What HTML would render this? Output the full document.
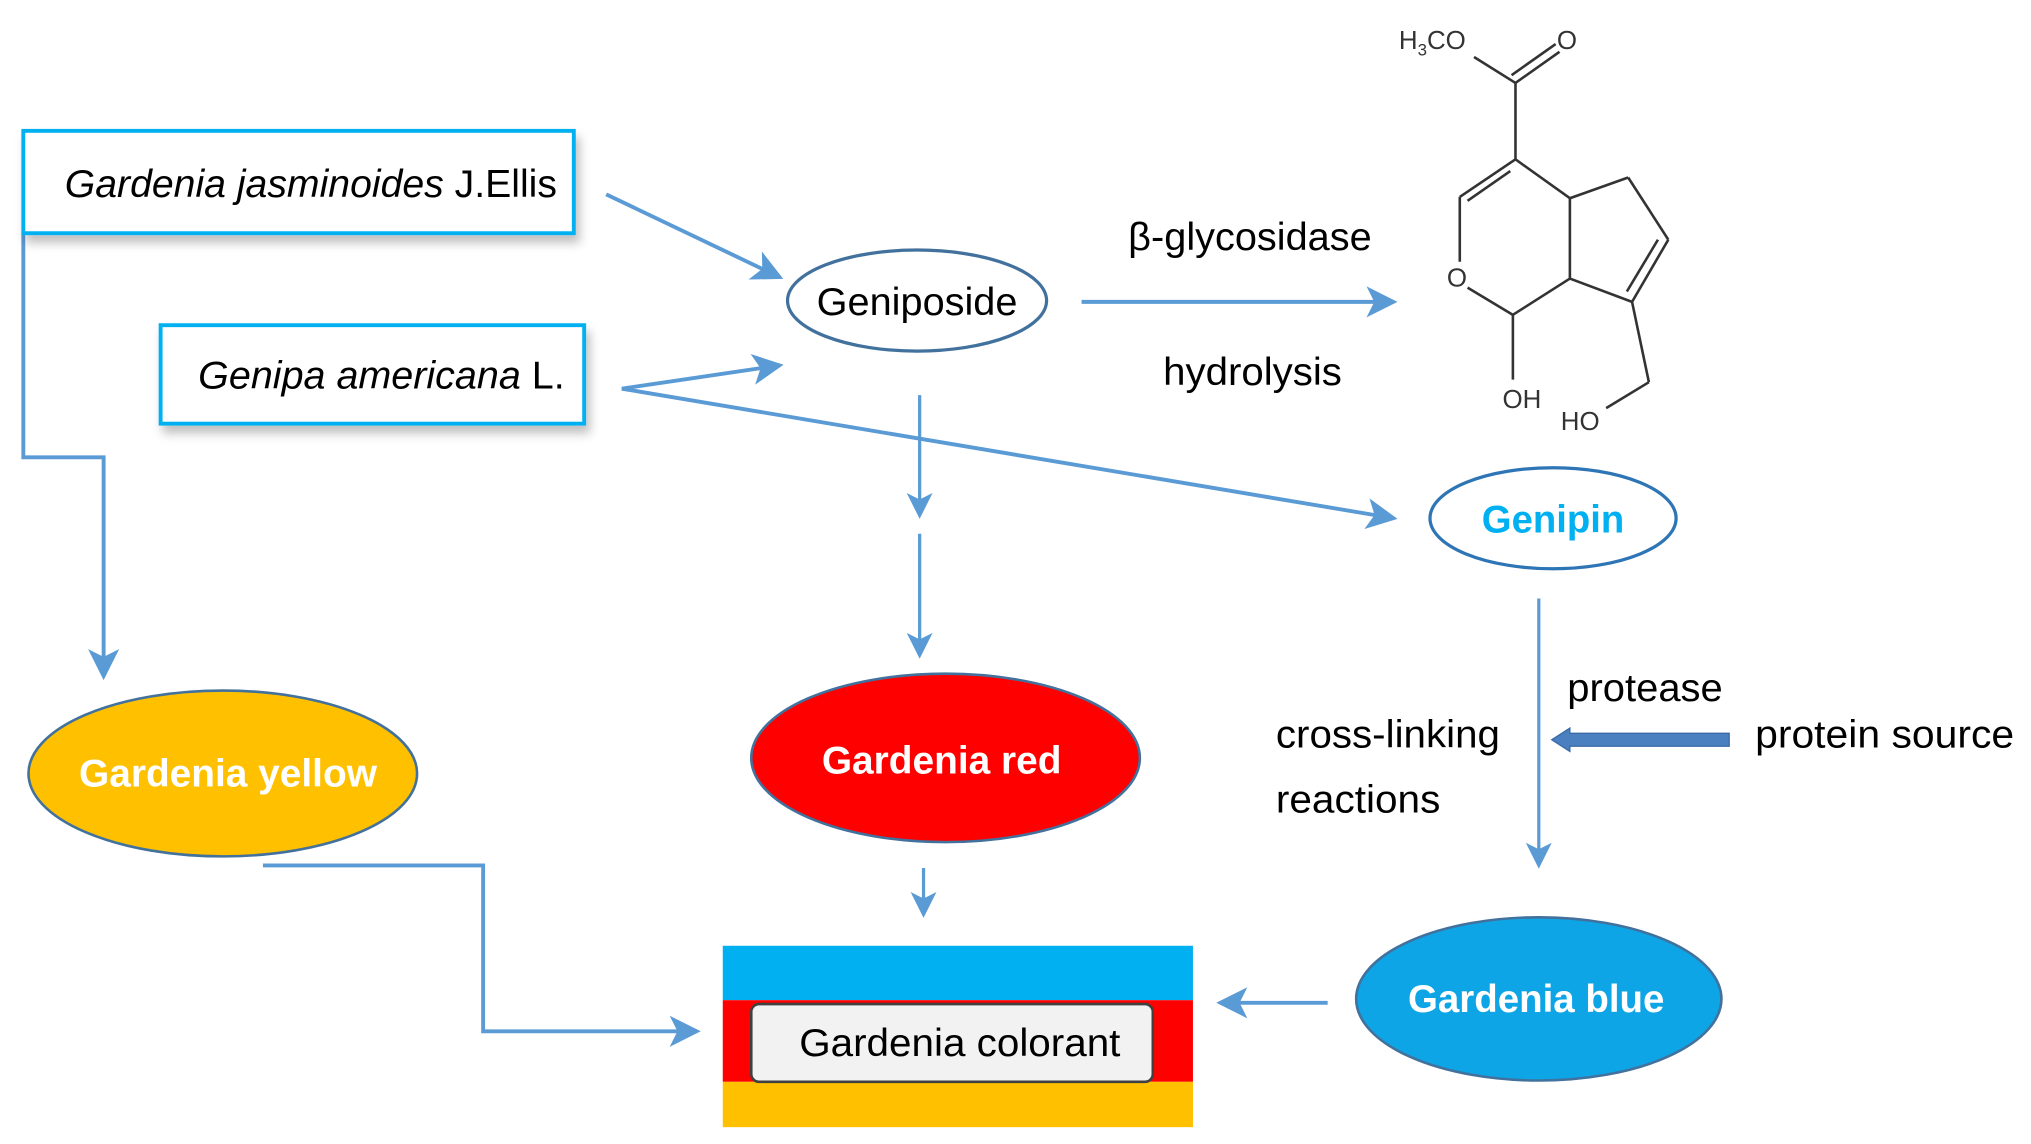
<!DOCTYPE html>
<html><head><meta charset="utf-8"><style>
html,body{margin:0;padding:0;background:#fff;}
svg{display:block;}
text{font-family:"Liberation Sans",sans-serif;}
</style></head><body>
<svg width="2031" height="1144" viewBox="0 0 1568 883" preserveAspectRatio="none" xmlns="http://www.w3.org/2000/svg">
<defs>
<marker id="a" markerWidth="8" markerHeight="8" refX="7" refY="4" orient="auto" markerUnits="strokeWidth">
<path d="M0,0 L8,4 L0,8 L2,4 Z" fill="#5b9bd5"/></marker>
<filter id="sh" x="-10%" y="-10%" width="130%" height="150%"><feDropShadow dx="3" dy="6" stdDeviation="4" flood-color="#000" flood-opacity="0.25"/></filter>
</defs>
<g stroke="#5b9bd5" stroke-width="3" fill="none">
<path d="M18,180 L18,353 L80,353 L80,522" marker-end="url(#a)"/>
<line x1="468" y1="150" x2="602" y2="214" marker-end="url(#a)"/>
<line x1="480" y1="300" x2="602" y2="282" marker-end="url(#a)"/>
<line x1="480" y1="300" x2="1076" y2="400" marker-end="url(#a)"/>
<line x1="835" y1="233" x2="1076" y2="233" marker-end="url(#a)"/>
<line x1="710" y1="305" x2="710" y2="398" stroke-width="2.5" marker-end="url(#a)"/>
<line x1="710" y1="412" x2="710" y2="506" stroke-width="2.5" marker-end="url(#a)"/>
<line x1="1188" y1="462" x2="1188" y2="668" stroke-width="2.5" marker-end="url(#a)"/>
<line x1="713" y1="670" x2="713" y2="706" stroke-width="2.5" marker-end="url(#a)"/>
<path d="M203,668 L373,668 L373,796 L538,796" marker-end="url(#a)"/>
<line x1="1025" y1="774" x2="942" y2="774" marker-end="url(#a)"/>
</g>
<path d="M1335,566 L1212,566 L1212,562 L1198,571 L1212,580 L1212,576 L1335,576 Z" fill="#4a7fc0" stroke="#3a6aa5" stroke-width="1"/>
<rect x="18" y="101" width="425" height="79" fill="#fff" stroke="#00b0f0" stroke-width="3" filter="url(#sh)"/>
<text x="50" y="152" font-size="30" textLength="380" lengthAdjust="spacingAndGlyphs"><tspan font-style="italic">Gardenia jasminoides</tspan> J.Ellis</text>
<rect x="124" y="251" width="327" height="76" fill="#fff" stroke="#00b0f0" stroke-width="3" filter="url(#sh)"/>
<text x="153" y="300" font-size="30" textLength="283" lengthAdjust="spacingAndGlyphs"><tspan font-style="italic">Genipa americana</tspan> L.</text>
<ellipse cx="708" cy="232" rx="100" ry="39" fill="#fff" stroke="#41719c" stroke-width="2.5"/>
<text x="708" y="243" font-size="30" text-anchor="middle" textLength="155" lengthAdjust="spacingAndGlyphs">Geniposide</text>
<ellipse cx="1199" cy="400" rx="95" ry="39" fill="#fff" stroke="#2e75b6" stroke-width="2.5"/>
<text x="1199" y="411" font-size="30" font-weight="bold" fill="#00b0f0" text-anchor="middle" textLength="110" lengthAdjust="spacingAndGlyphs">Genipin</text>
<ellipse cx="172" cy="597" rx="150" ry="64" fill="#ffc000" stroke="#41719c" stroke-width="2"/>
<text x="176" y="607" font-size="30" font-weight="bold" fill="#fff" text-anchor="middle" textLength="230" lengthAdjust="spacingAndGlyphs">Gardenia yellow</text>
<ellipse cx="730" cy="585" rx="150" ry="65" fill="#ff0000" stroke="#41719c" stroke-width="2"/>
<text x="727" y="597" font-size="30" font-weight="bold" fill="#fff" text-anchor="middle" textLength="185" lengthAdjust="spacingAndGlyphs">Gardenia red</text>
<ellipse cx="1188" cy="771" rx="141" ry="63" fill="#0ea5e6" stroke="#41719c" stroke-width="2"/>
<text x="1186" y="781" font-size="30" font-weight="bold" fill="#fff" text-anchor="middle" textLength="198" lengthAdjust="spacingAndGlyphs">Gardenia blue</text>
<rect x="558" y="730" width="363" height="42" fill="#00b0f0"/>
<rect x="558" y="772" width="363" height="63" fill="#ff0000"/>
<rect x="558" y="835" width="363" height="35" fill="#ffc000"/>
<rect x="580" y="775" width="310" height="60" rx="6" fill="#f2f2f2" stroke="#404040" stroke-width="2"/>
<text x="741" y="815" font-size="30" text-anchor="middle" textLength="248" lengthAdjust="spacingAndGlyphs">Gardenia colorant</text>
<text x="965" y="193" font-size="30" text-anchor="middle" textLength="188" lengthAdjust="spacingAndGlyphs">β-glycosidase</text>
<text x="967" y="297" font-size="30" text-anchor="middle" textLength="138" lengthAdjust="spacingAndGlyphs">hydrolysis</text>
<text x="1210" y="541" font-size="30" textLength="120" lengthAdjust="spacingAndGlyphs">protease</text>
<text x="1355" y="577" font-size="30" textLength="200" lengthAdjust="spacingAndGlyphs">protein source</text>
<text x="985" y="577" font-size="30" textLength="173" lengthAdjust="spacingAndGlyphs">cross-linking</text>
<text x="985" y="627" font-size="30" textLength="127" lengthAdjust="spacingAndGlyphs">reactions</text>
<g stroke="#333" stroke-width="2" fill="none">
<line x1="1138" y1="44" x2="1170" y2="64"/>
<line x1="1170" y1="64" x2="1204" y2="40"/>
<line x1="1167" y1="58" x2="1201" y2="34"/>
<line x1="1170" y1="64" x2="1170" y2="123"/>
<line x1="1170" y1="123" x2="1127" y2="152"/>
<line x1="1166" y1="132" x2="1133" y2="155"/>
<line x1="1127" y1="152" x2="1127" y2="202"/>
<line x1="1133" y1="222" x2="1168" y2="243"/>
<line x1="1168" y1="243" x2="1212" y2="215"/>
<line x1="1212" y1="215" x2="1212" y2="153"/>
<line x1="1212" y1="153" x2="1170" y2="123"/>
<line x1="1212" y1="153" x2="1257" y2="137"/>
<line x1="1257" y1="137" x2="1288" y2="185"/>
<line x1="1288" y1="185" x2="1260" y2="233"/>
<line x1="1280" y1="185" x2="1256" y2="225"/>
<line x1="1260" y1="233" x2="1212" y2="215"/>
<line x1="1260" y1="233" x2="1273" y2="295"/>
<line x1="1273" y1="295" x2="1240" y2="315"/>
<line x1="1168" y1="243" x2="1168" y2="293"/>
</g>
<g font-size="20" fill="#333">
<text x="1080" y="38">H<tspan font-size="13" dy="5">3</tspan><tspan dy="-5">CO</tspan></text>
<text x="1202" y="38">O</text>
<text x="1117" y="221">O</text>
<text x="1160" y="315">OH</text>
<text x="1205" y="332">HO</text>
</g>
</svg>
</body></html>
